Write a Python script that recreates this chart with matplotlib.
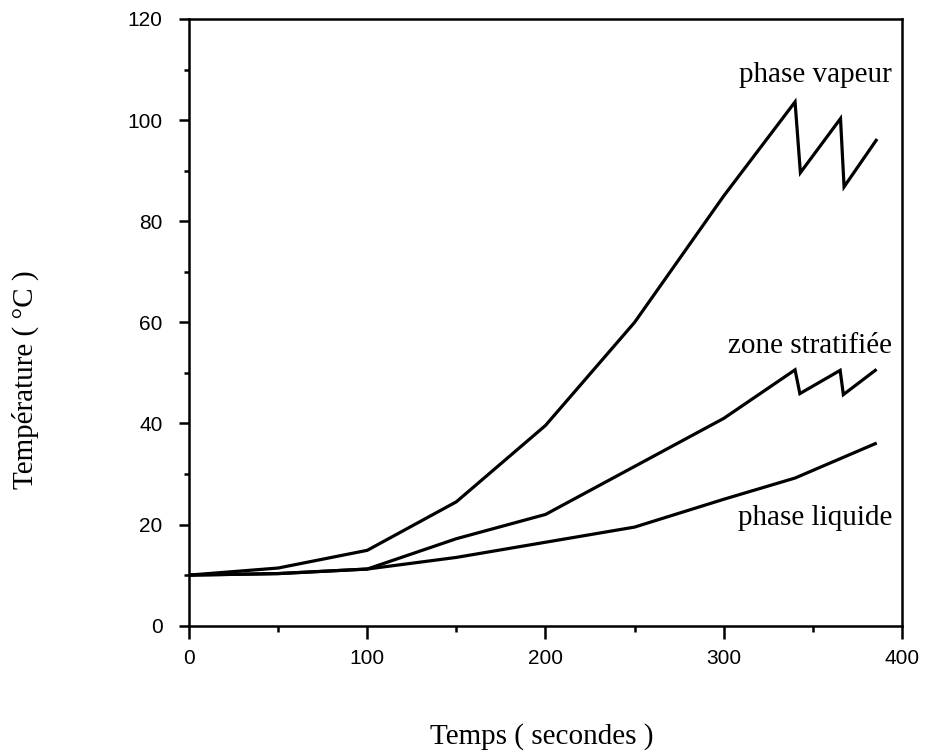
import numpy as np
import matplotlib
matplotlib.use("Agg")
import matplotlib.pyplot as plt
from matplotlib.ticker import MultipleLocator

# Courbes (temps en s, température en °C)
t_vapeur = [0, 50, 100, 150, 200, 250, 300, 340, 343, 365.5, 367.5, 385.5]
T_vapeur = [10, 11.4, 14.9, 24.5, 39.6, 60, 85, 103.6, 89.6, 100.3, 86.8, 96]

t_strat = [0, 50, 100, 150, 200, 250, 300, 340, 342.7, 365.3, 367.1, 385]
T_strat = [10, 10.3, 11.2, 17.2, 22, 31.5, 41, 50.6, 45.9, 50.5, 45.7, 50.5]

t_liquide = [0, 50, 100, 150, 200, 250, 300, 340, 385]
T_liquide = [10, 10.3, 11.2, 13.5, 16.5, 19.5, 25, 29.2, 36]

etiquettes = ["phase vapeur", "zone stratifiée", "phase liquide"]
pos_etiquettes = [(394.5, 108.9), (394.5, 55.4), (394.5, 21.2)]

serif = ["Liberation Serif", "DejaVu Serif"]
sans = ["Liberation Sans", "DejaVu Sans"]

fig = plt.figure(figsize=(9.3, 7.53), dpi=100)
ax = fig.add_axes([0.2032, 0.1691, 0.7667, 0.8057])

for t, T in [(t_vapeur, T_vapeur), (t_strat, T_strat), (t_liquide, T_liquide)]:
    ax.plot(t, T, color="black", lw=2.3, solid_joinstyle="miter")

for txt, (x, y) in zip(etiquettes, pos_etiquettes):
    ax.text(x, y, txt, ha="right", va="center", fontsize=21, family=serif)

ax.set_xlim(0, 400)
ax.set_ylim(0, 120)
ax.xaxis.set_major_locator(MultipleLocator(100))
ax.xaxis.set_minor_locator(MultipleLocator(50))
ax.yaxis.set_major_locator(MultipleLocator(20))
ax.yaxis.set_minor_locator(MultipleLocator(10))

for s in ax.spines.values():
    s.set_linewidth(1.8)

ax.tick_params(which="major", direction="out", length=7, width=1.8,
               labelsize=15)
ax.tick_params(which="minor", direction="out", length=3.5, width=1.8)
ax.tick_params(axis="x", which="major", length=9.5, pad=7)
ax.tick_params(axis="x", which="minor", length=4.5)
ax.tick_params(axis="y", which="major", pad=12)
for lab in ax.get_xticklabels() + ax.get_yticklabels():
    lab.set_family(sans)

ax.set_xlabel("Temps ( secondes )", fontsize=21, family=serif, va="center")
ax.set_ylabel("Température ( °C )", fontsize=21, family=serif, va="center")
ax.xaxis.set_label_coords(0.495, -0.183)
ax.yaxis.set_label_coords(-0.229, 0.405)

fig.savefig("out.png", dpi=100)
